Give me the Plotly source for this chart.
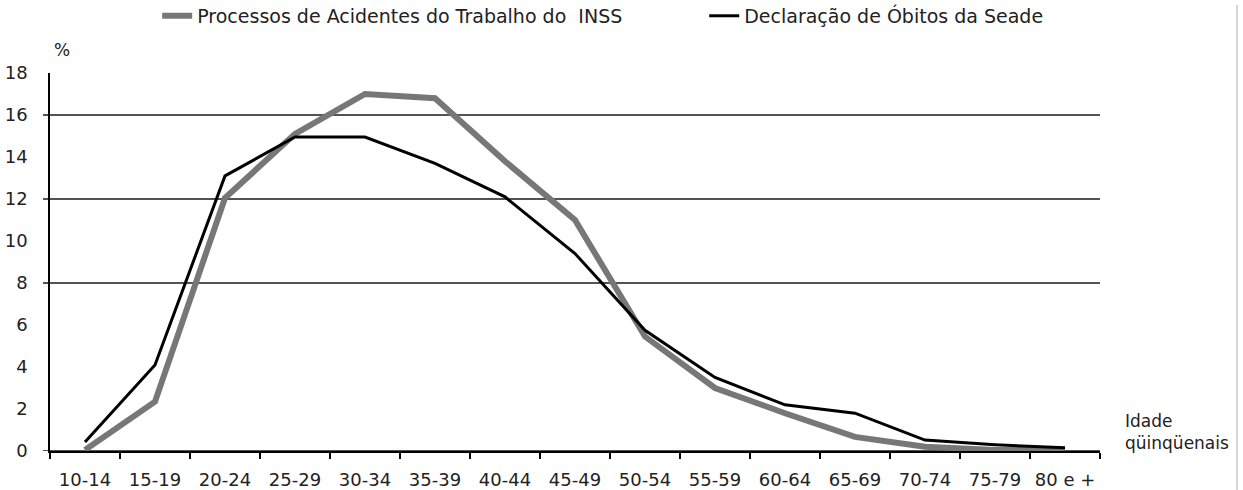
import plotly.graph_objects as go

categories = ["10-14", "15-19", "20-24", "25-29", "30-34", "35-39", "40-44", "45-49",
              "50-54", "55-59", "60-64", "65-69", "70-74", "75-79", "80 e +"]
inss = [0.05, 2.35, 12.05, 15.1, 17.0, 16.8, 13.8, 11.0, 5.45, 3.0, 1.8, 0.67, 0.2, 0.05, 0.05]
seade = [0.43, 4.1, 13.1, 14.95, 14.95, 13.7, 12.1, 9.4, 5.75, 3.5, 2.2, 1.8, 0.52, 0.3, 0.15]
y_ticks = [0, 2, 4, 6, 8, 10, 12, 14, 16, 18]
grid_values = [0, 8, 12, 16]

FONT = "DejaVu Sans"

fig = go.Figure()
fig.add_trace(go.Scatter(x=categories, y=inss, mode="lines",
                         name="Processos de Acidentes do Trabalho do  INSS",
                         line=dict(color="#777777", width=6)))
fig.add_trace(go.Scatter(x=categories, y=seade, mode="lines",
                         name="Declaração de Óbitos da Seade",
                         line=dict(color="#000000", width=3)))

for g in grid_values:
    fig.add_shape(type="line", xref="paper", yref="y", x0=-0.0067, x1=1, y0=g, y1=g,
                  line=dict(color="#1a1a1a", width=1.5), layer="below")

fig.add_shape(type="line", xref="paper", yref="paper", x0=1.1305, x1=1.1305, y0=-0.11, y1=1.18,
              line=dict(color="#c8c8c8", width=1.5))

fig.add_annotation(text="%", xref="paper", yref="paper", x=0.0114, y=1.061,
                   showarrow=False, xanchor="center", yanchor="middle",
                   font=dict(family=FONT, size=17, color="#222"))
fig.add_annotation(text="Idade<br>qüinqüenais", xref="paper", yref="paper", x=1.022, y=0.05,
                   showarrow=False, xanchor="left", yanchor="middle", align="left",
                   font=dict(family=FONT, size=17, color="#222"))

fig.update_layout(
    width=1243, height=490,
    margin=dict(l=50, r=143, t=73, b=39, autoexpand=False),
    paper_bgcolor="white", plot_bgcolor="white",
    font=dict(family=FONT, size=18, color="#222"),
    showlegend=True,
    legend=dict(orientation="h", x=1.144, y=1.151, xanchor="right", yanchor="middle",
                font=dict(family=FONT, size=19, color="#222"),
                entrywidth=502, entrywidthmode="pixels", bgcolor="rgba(0,0,0,0)"),
    xaxis=dict(type="category", range=[-0.5, 14.5], tickson="boundaries",
               ticks="outside", ticklen=6, tickcolor="black", tickwidth=1.5,
               showline=True, linecolor="black", linewidth=1.5, showgrid=False,
               zeroline=False, ticklabelstandoff=12, tickangle=0,
               tickfont=dict(family=FONT, size=18, color="#222")),
    yaxis=dict(range=[0, 18], tickvals=y_ticks, ticks="", showline=True,
               linecolor="black", linewidth=1.5, showgrid=False, zeroline=False,
               ticklabelstandoff=17, tickfont=dict(family=FONT, size=18, color="#222")),
)

fig.write_html("out.html", config={"displayModeBar": False},
               post_script="document.body.style.margin='0px';")
